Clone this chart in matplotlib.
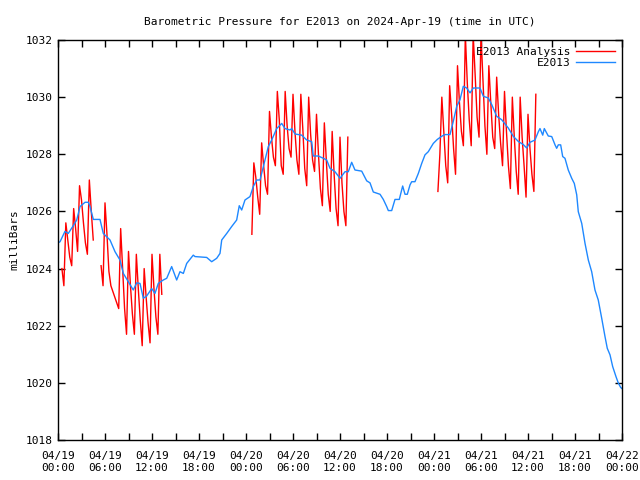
import numpy as np
import matplotlib
matplotlib.use("Agg")
import matplotlib.pyplot as plt

# E2013 station pressure, hours since 2024-04-19 00:00 UTC
blue_hours = [0.0, 0.26, 0.89, 1.31, 1.95, 2.39, 2.81, 3.45, 3.87, 4.09, 4.51, 5.36, 5.78,
              6.64, 7.28, 7.91, 8.34, 8.97, 9.61, 10.05, 10.47, 10.89, 11.32, 11.96, 12.38,
              12.80, 13.44, 13.88, 14.51, 15.15, 15.57, 16.00, 16.43, 17.27, 17.49, 18.98,
              19.62, 20.26, 20.68, 20.90, 21.54, 22.17, 22.81, 23.14, 23.45, 23.87, 24.51,
              24.93, 25.37, 25.79, 26.21, 26.85, 27.28, 27.92, 28.56, 28.98, 29.62, 29.83,
              30.26, 31.11, 31.75, 32.39, 32.59, 33.23, 33.87, 34.30, 34.72, 35.36, 36.00,
              36.64, 37.06, 37.49, 37.91, 38.77, 39.41, 39.83, 40.25, 41.11, 41.53, 41.96,
              42.17, 42.60, 43.02, 43.57, 44.00, 44.30, 44.59, 44.94, 45.15, 45.57, 46.00,
              46.43, 46.85, 47.27, 47.91, 48.42, 48.98, 49.40, 50.04, 50.46, 50.90, 51.32,
              51.74, 52.17, 52.60, 53.02, 53.87, 54.30, 54.93, 55.37, 56.00, 56.64, 57.48,
              58.12, 58.76, 59.40, 59.83, 60.26, 60.89, 61.32, 61.53, 61.88, 62.08, 62.59,
              63.03, 63.45, 63.66, 63.87, 64.17, 64.43, 64.72, 65.14, 65.58, 65.91, 66.22,
              66.42, 66.86, 67.28, 67.70, 68.13, 68.55, 68.97, 69.41, 69.83, 70.12, 70.47,
              70.81, 71.23, 71.52, 71.83, 72.0]
blue_mb = [1024.90, 1024.94, 1025.30, 1025.23, 1025.50, 1025.70, 1026.17, 1026.32, 1026.32,
           1026.17, 1025.72, 1025.72, 1025.23, 1025.00, 1024.59, 1024.30, 1023.83, 1023.54,
           1023.25, 1023.50, 1023.48, 1022.96, 1023.04, 1023.30, 1023.13, 1023.48, 1023.60,
           1023.66, 1024.07, 1023.60, 1023.89, 1023.83, 1024.18, 1024.47, 1024.42, 1024.39,
           1024.24, 1024.36, 1024.53, 1025.00, 1025.23, 1025.47, 1025.70, 1026.20, 1026.05,
           1026.40, 1026.52, 1026.87, 1027.10, 1027.10, 1027.57, 1028.27, 1028.50, 1028.90,
           1029.08, 1028.90, 1028.85, 1028.90, 1028.71, 1028.67, 1028.50, 1028.44, 1027.94,
           1027.94, 1027.86, 1027.80, 1027.51, 1027.39, 1027.16, 1027.39, 1027.39, 1027.72,
           1027.45, 1027.41, 1027.07, 1027.00, 1026.68, 1026.60, 1026.42, 1026.17, 1026.03,
           1026.03, 1026.42, 1026.42, 1026.89, 1026.60, 1026.60, 1026.93, 1027.04, 1027.04,
           1027.33, 1027.68, 1027.98, 1028.09, 1028.38, 1028.52, 1028.63, 1028.69, 1028.69,
           1029.15, 1029.68, 1029.91, 1030.38, 1030.32, 1030.15, 1030.32, 1030.32, 1030.03,
           1029.97, 1029.74, 1029.33, 1029.21, 1028.92, 1028.63, 1028.45, 1028.34, 1028.22,
           1028.42, 1028.50, 1028.79, 1028.90, 1028.67, 1028.90, 1028.64, 1028.62, 1028.33,
           1028.21, 1028.33, 1028.33, 1027.92, 1027.86, 1027.45, 1027.16, 1026.98, 1026.58,
           1025.99, 1025.58, 1024.88, 1024.30, 1023.89, 1023.25, 1022.90, 1022.26, 1021.62,
           1021.21, 1020.98, 1020.57, 1020.22, 1020.00, 1019.84, 1019.80]

# analysis runs, 15 minute samples
red_start = [0.5, 24.75, 48.5]
red_seg1 = [1024.0, 1023.4, 1025.6, 1025.0, 1024.4, 1024.1, 1026.1, 1025.4, 1024.6, 1026.9,
            1026.4, 1025.6, 1024.9, 1024.5, 1027.1, 1026.0, 1025.0, np.nan, np.nan, np.nan,
            1024.1, 1023.4, 1026.3, 1025.2, 1023.9, 1023.4, 1023.2, 1023.0, 1022.8, 1022.6,
            1025.4, 1024.0, 1022.6, 1021.7, 1024.6, 1023.4, 1022.4, 1021.7, 1024.5, 1023.3,
            1022.2, 1021.3, 1024.0, 1023.0, 1022.1, 1021.4, 1024.5, 1023.3, 1022.3, 1021.7,
            1024.5, 1023.1]
red_seg2 = [1025.2, 1027.7, 1027.2, 1026.5, 1025.9, 1028.4, 1027.6, 1026.9, 1026.6, 1029.5,
            1028.6, 1027.9, 1027.6, 1030.2, 1029.2, 1027.6, 1027.3, 1030.2, 1029.0, 1028.2,
            1027.9, 1030.1, 1028.8, 1027.8, 1027.3, 1030.1, 1028.9, 1027.5, 1026.9, 1030.0,
            1028.7, 1027.8, 1027.4, 1029.4, 1028.0, 1026.8, 1026.2, 1029.1, 1027.8, 1026.6,
            1026.0, 1028.8, 1027.3, 1026.1, 1025.5, 1028.6, 1027.0, 1026.0, 1025.5, 1028.6]
red_seg3 = [1026.7, 1028.0, 1030.0, 1028.8, 1027.6, 1027.0, 1030.4, 1029.4, 1028.2, 1027.3,
            1031.1, 1029.8, 1028.8, 1028.3, 1032.2, 1030.5, 1029.2, 1028.3, 1032.2, 1030.8,
            1029.3, 1028.6, 1032.2, 1030.6, 1029.0, 1028.0, 1031.1, 1029.8, 1028.6, 1028.2,
            1030.7, 1029.4, 1028.4, 1027.6, 1030.2, 1028.8, 1027.6, 1026.8, 1030.0, 1028.6,
            1027.4, 1026.6, 1030.0, 1028.6, 1027.6, 1026.5, 1029.4, 1028.2, 1027.3, 1026.7,
            1030.1]

tick_hours = [0, 6, 12, 18, 24, 30, 36, 42, 48, 54, 60, 66, 72]
tick_labels = ["04/19\n00:00", "04/19\n06:00", "04/19\n12:00", "04/19\n18:00",
               "04/20\n00:00", "04/20\n06:00", "04/20\n12:00", "04/20\n18:00",
               "04/21\n00:00", "04/21\n06:00", "04/21\n12:00", "04/21\n18:00",
               "04/22\n00:00"]

plt.rcParams['font.family'] = ['DejaVu Sans Mono']
plt.rcParams['font.size'] = 8

fig = plt.figure(figsize=(6.4, 4.8), dpi=100)
ax = fig.add_axes([58 / 640, 40 / 480, 564 / 640, 400 / 480])

red_x, red_y = [], []
for start, seg in zip(red_start, [red_seg1, red_seg2, red_seg3]):
    red_x += list(start + 0.25 * np.arange(len(seg))) + [np.nan]
    red_y += list(seg) + [np.nan]
ax.plot(red_x, red_y, color='#ff0000', lw=1, label='E2013 Analysis')
ax.plot(blue_hours, blue_mb, color='#1e88ff', lw=1, label='E2013')

ax.set_xlim(0, 72)
ax.set_ylim(1018, 1032)
ax.set_xticks(tick_hours)
ax.set_xticklabels(tick_labels)
ax.set_xticks(np.arange(3, 72, 6), minor=True)
ax.set_yticks(np.arange(1018, 1033, 2))
ax.tick_params(which='both', direction='in', top=True, right=True, length=5, width=1)
ax.tick_params(axis='x', pad=8)
for s in ax.spines.values():
    s.set_linewidth(1)

ax.set_ylabel('milliBars', labelpad=5)
ax.set_title('Barometric Pressure for E2013 on 2024-Apr-19 (time in UTC)', pad=11, fontsize=8)
ax.legend(loc='upper right', frameon=False, markerfirst=False, handlelength=3.5,
          borderaxespad=0.2, labelspacing=0.1, handletextpad=0.5)

fig.savefig('out.png', dpi=100)
